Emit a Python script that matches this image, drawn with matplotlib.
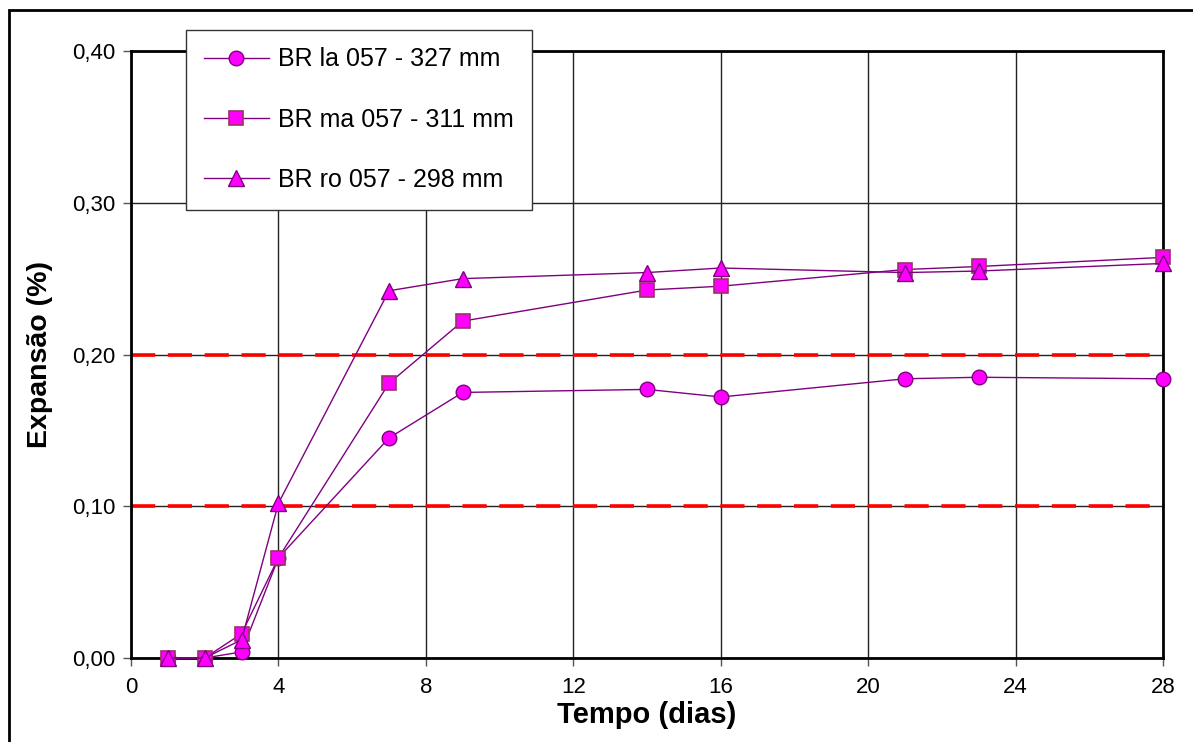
import matplotlib
matplotlib.use("Agg")
import matplotlib.pyplot as plt
from matplotlib.patches import Rectangle
from matplotlib.ticker import FuncFormatter

plt.rcParams['font.family'] = ['Liberation Sans', 'DejaVu Sans']

# dados
dias = [1, 2, 3, 4, 7, 9, 14, 16, 21, 23, 28]
br_la = [0.0, 0.0, 0.004, 0.066, 0.145, 0.175, 0.177, 0.172, 0.184, 0.185, 0.184]
br_ma = [0.0, 0.0, 0.016, 0.066, 0.181, 0.222, 0.2425, 0.245, 0.256, 0.258, 0.264]
br_ro = [0.0, 0.0, 0.012, 0.102, 0.242, 0.250, 0.254, 0.257, 0.254, 0.255, 0.260]
nomes = ['BR la 057 - 327 mm', 'BR ma 057 - 311 mm', 'BR ro 057 - 298 mm']
limites = [0.10, 0.20]

fig = plt.figure(figsize=(11.93, 7.42), dpi=100)
ax = fig.add_axes([131/1193, 1-658/742, (1163-131)/1193, (658-51)/742])

# moldura externa
fig.patches.append(Rectangle((9/1193, -0.05), 1.1, 1.05 - 10/742, transform=fig.transFigure,
                             fill=False, edgecolor='black', linewidth=2))

for y in limites:
    ax.axhline(y, color='red', linewidth=2.6, dashes=(6.7, 3.5), zorder=2)

cor_linha = '#800080'
cor_borda = '#993366'
ax.plot(dias, br_la, '-o', color=cor_linha, lw=1, ms=10.5, mfc='#ff00ff', mec=cor_linha, mew=1,
        label=nomes[0], zorder=3, clip_on=False)
ax.plot(dias, br_ma, '-s', color=cor_linha, lw=1, ms=10, mfc='#ff00ff', mec=cor_borda, mew=1.2,
        label=nomes[1], zorder=3, clip_on=False)
ax.plot(dias, br_ro, '-^', color=cor_linha, lw=1, ms=11.5, mfc='#ff00ff', mec=cor_linha, mew=1,
        label=nomes[2], zorder=3, clip_on=False)

ax.set_xlim(0, 28)
ax.set_ylim(0, 0.40)
ax.set_xticks(range(0, 29, 4))
ax.set_yticks([0, 0.1, 0.2, 0.3, 0.4])
ax.yaxis.set_major_formatter(FuncFormatter(lambda v, p: ('%.2f' % v).replace('.', ',')))
ax.grid(True, color='#222222', linewidth=1)
ax.set_axisbelow(True)
for s in ax.spines.values():
    s.set_linewidth(2)
    s.set_color('black')
ax.tick_params(axis='both', labelsize=16, length=6, width=1, color='#555555')
ax.tick_params(axis='x', pad=8)
ax.tick_params(axis='y', pad=5)

ax.set_xlabel('Tempo (dias)', fontsize=21, fontweight='bold', labelpad=2)
ax.set_ylabel('Expansão (%)', fontsize=20.5, fontweight='bold', labelpad=14)

leg = fig.legend(loc='upper left', bbox_to_anchor=(186/1193, 1-30/742), fontsize=18,
                 frameon=True, fancybox=False, edgecolor='#333333', framealpha=1,
                 labelspacing=1.45, handlelength=2.6, borderpad=0.7, handletextpad=0.4,
                 borderaxespad=0)
leg.get_frame().set_linewidth(1)

fig.savefig('out.png', dpi=100)
